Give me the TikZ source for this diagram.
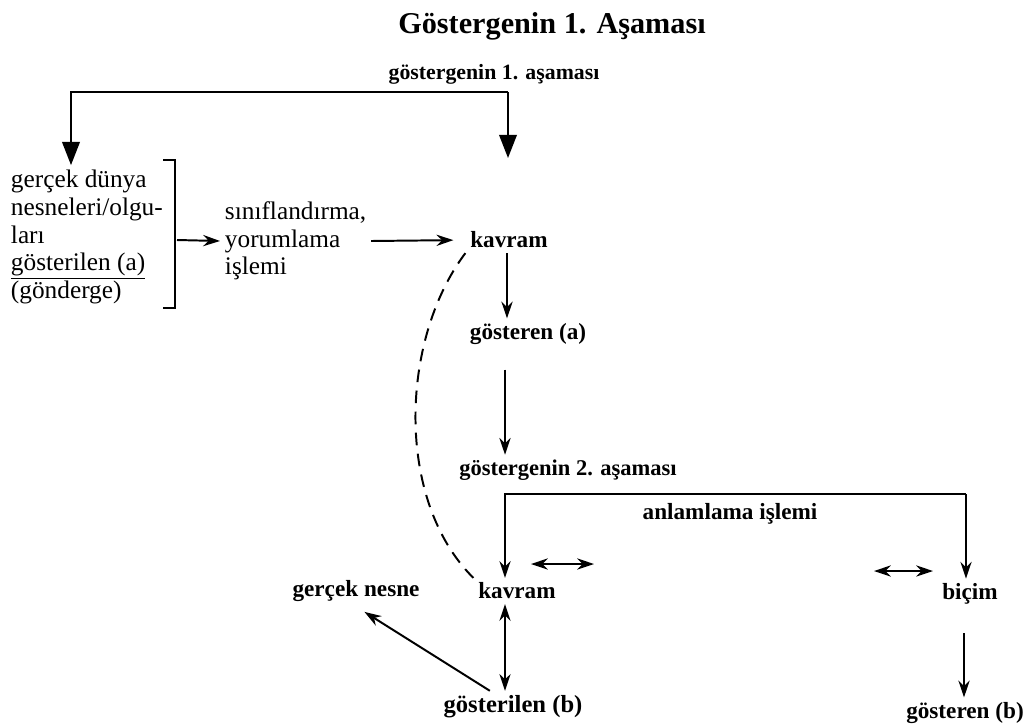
\documentclass[tikz,border=0pt]{standalone}
\usepackage{fontspec}
\setmainfont{Liberation Serif}
\usetikzlibrary{arrows.meta, positioning}

\begin{document}
\begin{tikzpicture}[x=0.025cm, y=-0.025cm,
  every node/.style={font=\fontsize{16.5}{19}\selectfont\bfseries},
  bodytext/.style={font=\fontsize{18}{19.7}\selectfont, align=left},
  arr/.style={-{Stealth[length=4.2mm, width=2.8mm]}, line width=1.4pt},
  bigarr/.style={-{Triangle[length=5.8mm, width=4.4mm]}, line width=1.4pt},
  twoarr/.style={{Stealth[length=4.2mm, width=2.8mm]}-{Stealth[length=4.2mm, width=2.8mm]}, line width=1.4pt}]

\useasboundingbox (0,0) rectangle (1031,725);

% Title
\node[font=\fontsize{21.5}{24}\selectfont\bfseries] (title) at (552,26) {Göstergenin 1. Aşaması};

% First stage
\node[font=\fontsize{15.5}{18}\selectfont\bfseries] (stage_one) at (494,74) {göstergenin 1. aşaması};
\coordinate (s1_left) at (71,92);
\coordinate (s1_right) at (508,92);
\coordinate (s1_tip) at (508,158);

\node[bodytext, anchor=west] (world) at (6,237)
  {gerçek dünya\\ nesneleri/olgu-\\ ları\\ \underline{gösterilen (a)}\\ (gönderge)};
\node[bodytext, anchor=west] (sorting) at (220,241) {sınıflandırma,\\ yorumlama\\ işlemi};
\node (kavram_a) at (509,240) {kavram};
\node (gosteren_a) at (528,334) {gösteren (a)};

\draw[bigarr] (s1_right) -- (s1_left) -- (world.north -| s1_left);
\draw[bigarr] (s1_right) -- (s1_tip);

% bracket round the world box
\draw[line width=1.4pt] (163,160) -- (175,160) -- (175,308) -- (163,308);
\coordinate (bracket_mid) at (177,240);
\draw[arr] (bracket_mid) -- (sorting.west);
\draw[arr, shorten >=0.3cm] (sorting.east) -- (kavram_a.west);
\draw[arr] (kavram_a.south -| 507,0) -- (gosteren_a.north -| 507,0);

% Second stage
\node[font=\fontsize{16}{19}\selectfont\bfseries] (stage_two) at (568,470) {göstergenin 2. aşaması};
\draw[arr, shorten <=0.5cm] (gosteren_a.south -| 505,0) -- (stage_two.north -| 505,0);

\coordinate (s2_left) at (505,494);
\coordinate (s2_right) at (966,494);
\node (meaning) at (730,514) {anlamlama işlemi};

\node (kavram_b) at (517,591) {kavram};
\node (bicim) at (970,594) {biçim};
\node (gercek_nesne) at (356,591) {gerçek nesne};
\node[font=\fontsize{17.5}{20}\selectfont\bfseries] (gosterilen_b) at (513,707) {gösterilen (b)};
\node (gosteren_b) at (965,713) {gösteren (b)};

\draw[arr] (s2_right) -- (s2_left) -- (kavram_b.north -| s2_left);
\draw[arr] (s2_right) -- (bicim.north -| s2_right);

% small two-way arrows
\coordinate (pair_a1) at (531,564);
\coordinate (pair_a2) at (594,564);
\coordinate (pair_b1) at (874,571);
\coordinate (pair_b2) at (933,571);
\draw[twoarr] (pair_a1) -- (pair_a2);
\draw[twoarr] (pair_b1) -- (pair_b2);

% dashed link between the two concepts
\draw[line width=1.4pt, dash pattern=on 9pt off 6pt]
  (kavram_a.south west) .. controls (400,340) and (395,500) .. (kavram_b.north west);

\draw[twoarr] (kavram_b.south -| s2_left) -- (gosterilen_b.north -| s2_left);
\draw[arr, shorten >=0.25cm] (gosterilen_b.145) -- (gercek_nesne.south);
\draw[arr, shorten <=0.6cm] (bicim.south -| 964,0) -- (gosteren_b.north -| 964,0);

\end{tikzpicture}
\end{document}
